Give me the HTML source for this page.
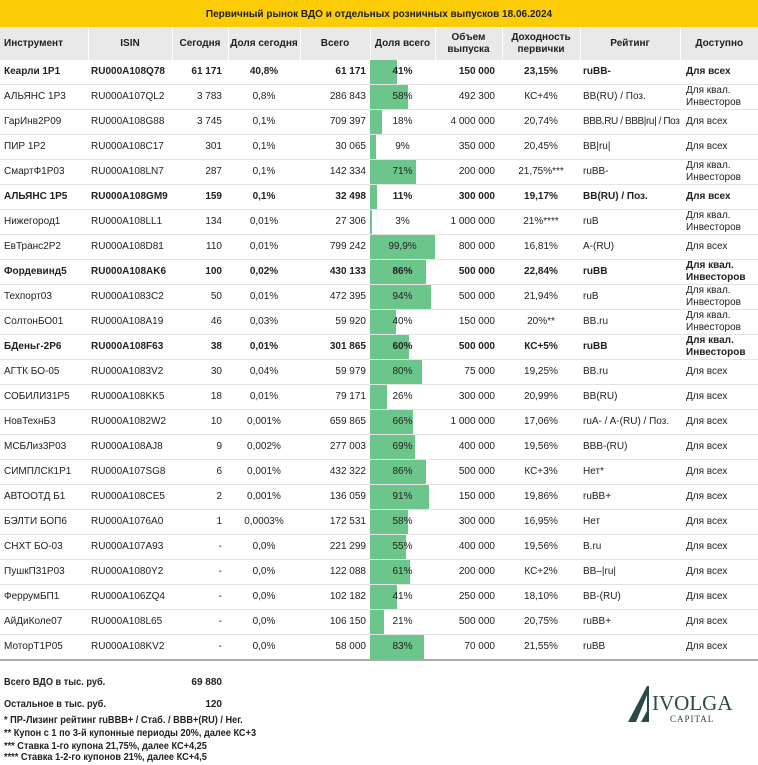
<!DOCTYPE html>
<html><head><meta charset="utf-8"><style>
body{margin:0;width:758px;height:765px;background:#fff;font-family:"Liberation Sans",Arial,sans-serif;font-size:10px;color:#222;position:relative;overflow:hidden}
.title{position:absolute;left:0;top:0;width:758px;height:27px;background:#fccc07;text-align:center;line-height:29px;font-weight:bold;font-size:10px}
table{position:absolute;left:0;top:27px;border-collapse:collapse;table-layout:fixed;width:758px}
th{background:#e9e9e9;height:33px;padding:0;font-weight:bold;text-align:center;border-left:1px solid #fff;line-height:12px;font-size:10px}
th:first-child{text-align:left;padding-left:4px;border-left:none}
td{height:24px;padding:0;border-bottom:1px solid #e4e4e4;white-space:nowrap;line-height:12px;overflow:hidden}
td:nth-child(1){padding-left:4px}
td:nth-child(2){padding-left:3px}
td:nth-child(3){text-align:right;padding-right:6px}
td:nth-child(4){text-align:center}
td:nth-child(5){text-align:right;padding-right:4px}
td:nth-child(6){position:relative;text-align:center}
td:nth-child(7){text-align:right;padding-right:7px}
td:nth-child(8){text-align:center}
td:nth-child(9){padding-left:3px}
td:nth-child(10){padding-left:6px}
td:nth-child(6) i{position:absolute;left:0;top:0;bottom:0;background:#6cc58a}
td:nth-child(6) span{position:relative}
tr.b td{font-weight:bold}
tr:last-child td{border-bottom:2px solid #aaa}
.f{position:absolute;font-size:10px;font-weight:bold;transform-origin:0 0;transform:scaleX(0.92);white-space:nowrap}
.v{position:absolute;font-size:10px;font-weight:bold;white-space:nowrap;width:50px;text-align:right}
</style></head><body>
<div class="title">Первичный рынок ВДО и отдельных розничных выпусков 18.06.2024</div>
<table>
<colgroup><col style="width:88px"><col style="width:84px"><col style="width:56px"><col style="width:72px"><col style="width:70px"><col style="width:65px"><col style="width:67px"><col style="width:78px"><col style="width:100px"><col style="width:78px"></colgroup>
<tr><th>Инструмент</th><th>ISIN</th><th>Сегодня</th><th>Доля сегодня</th><th>Всего</th><th>Доля всего</th><th>Объем<br>выпуска</th><th>Доходность<br>первички</th><th>Рейтинг</th><th>Доступно</th></tr>
<tr class="b"><td>Кеарли 1Р1</td><td>RU000A108Q78</td><td>61 171</td><td>40,8%</td><td>61 171</td><td><i style="width:41%"></i><span>41%</span></td><td>150 000</td><td>23,15%</td><td>ruBB-</td><td>Для всех</td></tr>
<tr><td>АЛЬЯНС 1Р3</td><td>RU000A107QL2</td><td>3 783</td><td>0,8%</td><td>286 843</td><td><i style="width:58%"></i><span>58%</span></td><td>492 300</td><td>КС+4%</td><td>BB(RU) / Поз.</td><td>Для квал.<br>Инвесторов</td></tr>
<tr><td>ГарИнв2Р09</td><td>RU000A108G88</td><td>3 745</td><td>0,1%</td><td>709 397</td><td><i style="width:18%"></i><span>18%</span></td><td>4 000 000</td><td>20,74%</td><td style="letter-spacing:-0.4px">BBB.RU / BBB|ru| / Поз.</td><td>Для всех</td></tr>
<tr><td>ПИР 1Р2</td><td>RU000A108C17</td><td>301</td><td>0,1%</td><td>30 065</td><td><i style="width:9%"></i><span>9%</span></td><td>350 000</td><td>20,45%</td><td>BB|ru|</td><td>Для всех</td></tr>
<tr><td>СмартФ1Р03</td><td>RU000A108LN7</td><td>287</td><td>0,1%</td><td>142 334</td><td><i style="width:71%"></i><span>71%</span></td><td>200 000</td><td>21,75%***</td><td>ruBB-</td><td>Для квал.<br>Инвесторов</td></tr>
<tr class="b"><td>АЛЬЯНС 1Р5</td><td>RU000A108GM9</td><td>159</td><td>0,1%</td><td>32 498</td><td><i style="width:11%"></i><span>11%</span></td><td>300 000</td><td>19,17%</td><td>BB(RU) / Поз.</td><td>Для всех</td></tr>
<tr><td>Нижегород1</td><td>RU000A108LL1</td><td>134</td><td>0,01%</td><td>27 306</td><td><i style="width:3%"></i><span>3%</span></td><td>1 000 000</td><td>21%****</td><td>ruB</td><td>Для квал.<br>Инвесторов</td></tr>
<tr><td>ЕвТранс2Р2</td><td>RU000A108D81</td><td>110</td><td>0,01%</td><td>799 242</td><td><i style="width:99.9%"></i><span>99,9%</span></td><td>800 000</td><td>16,81%</td><td>A-(RU)</td><td>Для всех</td></tr>
<tr class="b"><td>Фордевинд5</td><td>RU000A108AK6</td><td>100</td><td>0,02%</td><td>430 133</td><td><i style="width:86%"></i><span>86%</span></td><td>500 000</td><td>22,84%</td><td>ruBB</td><td>Для квал.<br>Инвесторов</td></tr>
<tr><td>Техпорт03</td><td>RU000A1083C2</td><td>50</td><td>0,01%</td><td>472 395</td><td><i style="width:94%"></i><span>94%</span></td><td>500 000</td><td>21,94%</td><td>ruB</td><td>Для квал.<br>Инвесторов</td></tr>
<tr><td>СолтонБО01</td><td>RU000A108A19</td><td>46</td><td>0,03%</td><td>59 920</td><td><i style="width:40%"></i><span>40%</span></td><td>150 000</td><td>20%**</td><td>BB.ru</td><td>Для квал.<br>Инвесторов</td></tr>
<tr class="b"><td>БДеньг-2Р6</td><td>RU000A108F63</td><td>38</td><td>0,01%</td><td>301 865</td><td><i style="width:60%"></i><span>60%</span></td><td>500 000</td><td>КС+5%</td><td>ruBB</td><td>Для квал.<br>Инвесторов</td></tr>
<tr><td>АГТК БО-05</td><td>RU000A1083V2</td><td>30</td><td>0,04%</td><td>59 979</td><td><i style="width:80%"></i><span>80%</span></td><td>75 000</td><td>19,25%</td><td>BB.ru</td><td>Для всех</td></tr>
<tr><td>СОБИЛИ31Р5</td><td>RU000A108KK5</td><td>18</td><td>0,01%</td><td>79 171</td><td><i style="width:26%"></i><span>26%</span></td><td>300 000</td><td>20,99%</td><td>BB(RU)</td><td>Для всех</td></tr>
<tr><td>НовТехнБ3</td><td>RU000A1082W2</td><td>10</td><td>0,001%</td><td>659 865</td><td><i style="width:66%"></i><span>66%</span></td><td>1 000 000</td><td>17,06%</td><td>ruA- / A-(RU) / Поз.</td><td>Для всех</td></tr>
<tr><td>МСБЛиз3Р03</td><td>RU000A108AJ8</td><td>9</td><td>0,002%</td><td>277 003</td><td><i style="width:69%"></i><span>69%</span></td><td>400 000</td><td>19,56%</td><td>BBB-(RU)</td><td>Для всех</td></tr>
<tr><td>СИМПЛСК1Р1</td><td>RU000A107SG8</td><td>6</td><td>0,001%</td><td>432 322</td><td><i style="width:86%"></i><span>86%</span></td><td>500 000</td><td>КС+3%</td><td>Нет*</td><td>Для всех</td></tr>
<tr><td>АВТООТД Б1</td><td>RU000A108CE5</td><td>2</td><td>0,001%</td><td>136 059</td><td><i style="width:91%"></i><span>91%</span></td><td>150 000</td><td>19,86%</td><td>ruBB+</td><td>Для всех</td></tr>
<tr><td>БЭЛТИ БОП6</td><td>RU000A1076A0</td><td>1</td><td>0,0003%</td><td>172 531</td><td><i style="width:58%"></i><span>58%</span></td><td>300 000</td><td>16,95%</td><td>Нет</td><td>Для всех</td></tr>
<tr><td>СНХТ БО-03</td><td>RU000A107A93</td><td>-</td><td>0,0%</td><td>221 299</td><td><i style="width:55%"></i><span>55%</span></td><td>400 000</td><td>19,56%</td><td>B.ru</td><td>Для всех</td></tr>
<tr><td>ПушкП31Р03</td><td>RU000A1080Y2</td><td>-</td><td>0,0%</td><td>122 088</td><td><i style="width:61%"></i><span>61%</span></td><td>200 000</td><td>КС+2%</td><td>BB–|ru|</td><td>Для всех</td></tr>
<tr><td>ФеррумБП1</td><td>RU000A106ZQ4</td><td>-</td><td>0,0%</td><td>102 182</td><td><i style="width:41%"></i><span>41%</span></td><td>250 000</td><td>18,10%</td><td>BB-(RU)</td><td>Для всех</td></tr>
<tr><td>АйДиКоле07</td><td>RU000A108L65</td><td>-</td><td>0,0%</td><td>106 150</td><td><i style="width:21%"></i><span>21%</span></td><td>500 000</td><td>20,75%</td><td>ruBB+</td><td>Для всех</td></tr>
<tr><td>МоторТ1Р05</td><td>RU000A108KV2</td><td>-</td><td>0,0%</td><td>58 000</td><td><i style="width:83%"></i><span>83%</span></td><td>70 000</td><td>21,55%</td><td>ruBB</td><td>Для всех</td></tr>
</table>
<div class="f" style="left:4px;top:677px">Всего ВДО в тыс. руб.</div>
<div class="v" style="left:172px;top:677px">69 880</div>
<div class="f" style="left:4px;top:699px">Остальное в тыс. руб.</div>
<div class="v" style="left:172px;top:699px">120</div>
<div class="f" style="left:4px;top:715px">* ПР-Лизинг рейтинг ruBBB+ / Стаб. / BBB+(RU) / Нег.</div>
<div class="f" style="left:4px;top:728px">** Купон с 1 по 3-й купонные периоды 20%, далее КС+3</div>
<div class="f" style="left:4px;top:741px">*** Ставка 1-го купона 21,75%, далее КС+4,25</div>
<div class="f" style="left:4px;top:752px">**** Ставка 1-2-го купонов 21%, далее КС+4,5</div>
<svg style="position:absolute;left:628px;top:682px" width="110" height="46">
<polygon points="0,40 19,4 19,13 8,40" fill="#2b4a45"/>
<polygon points="19,4 21,4 21,40 13,40 19,29" fill="#2b4a45"/>
<text x="24" y="28" font-family="Liberation Serif,serif" font-size="21" fill="#2b4a45">IVOLGA</text>
<text x="42" y="40" font-family="Liberation Serif,serif" font-size="9" fill="#2b4a45" letter-spacing="1">CAPITAL</text>
</svg>
</body></html>
